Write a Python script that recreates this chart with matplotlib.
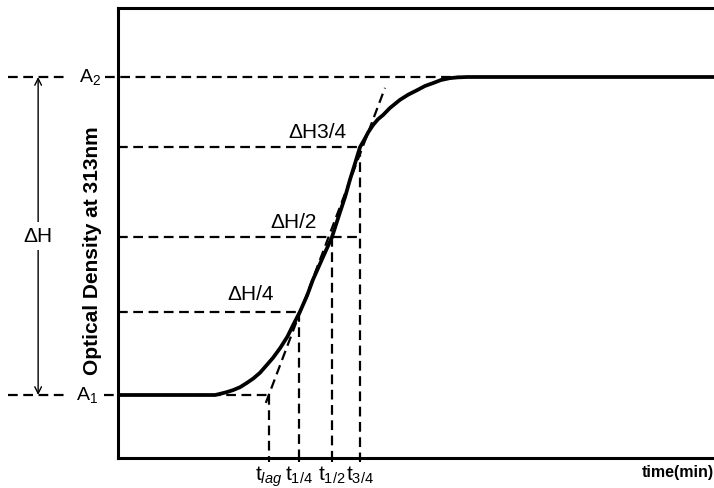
import matplotlib
matplotlib.use('Agg')
import matplotlib.pyplot as plt

plt.rcParams['font.family'] = ['Liberation Sans', 'DejaVu Sans']
plt.rcParams['mathtext.fontset'] = 'custom'
plt.rcParams['mathtext.rm'] = 'Liberation Sans'
plt.rcParams['mathtext.it'] = 'Liberation Sans:italic'
plt.rcParams['mathtext.bf'] = 'Liberation Sans:bold'
plt.rcParams['lines.scale_dashes'] = False

# ---- data (time in arbitrary minutes, OD arbitrary) ----
time_min = [0, 13.8, 16.3, 17.1, 18.1, 19.3, 20.5, 21.6, 22.7, 23.8, 24.8, 26.0,
            27.2, 28.4, 29.4, 30.5, 31.7, 32.7, 34.4, 35.9, 37.2, 38.1, 38.9, 39.8,
            40.6, 41.3, 42.0, 42.8, 43.6, 44.5, 45.6, 47.3, 48.7, 50.2, 51.5, 52.9,
            54.2, 55.7, 57.0, 58.6, 100]
od = [0.168, 0.168, 0.168, 0.171, 0.175, 0.181, 0.189, 0.200, 0.212, 0.227, 0.245, 0.267,
      0.293, 0.323, 0.355, 0.389, 0.432, 0.475, 0.536, 0.589, 0.653, 0.696, 0.741, 0.787,
      0.829, 0.848, 0.869, 0.888, 0.903, 0.915, 0.933, 0.955, 0.969, 0.981, 0.992, 1.000,
      1.008, 1.013, 1.015, 1.016, 1.016]

A1 = 0.168
A2 = 1.016
level_names = ['ΔH/4', 'ΔH/2', 'ΔH3/4']
levels = [0.389, 0.589, 0.829]

tick_times = [25.3, 30.4, 35.9, 40.6]          # t_lag, t_1/4, t_1/2, t_3/4
tick_labels = [r'$\mathrm{t}_{\mathit{lag}}$', r'$\mathrm{t}_{\mathrm{1/4}}$',
               r'$\mathrm{t}_{\mathrm{1/2}}$', r'$\mathrm{t}_{\mathrm{3/4}}$']

tangent_t = [24.8, 44.8]
tangent_od = [0.147, 0.987]

# ---- figure ----
fig = plt.figure(figsize=(7.14, 4.88), dpi=100)
ax = fig.add_axes([118 / 714, 30 / 488, 596 / 714, 450 / 488])
ax.set_xlim(0, 100)
ax.set_ylim(0, 1.2)

for s in ['left', 'bottom', 'top']:
    ax.spines[s].set_linewidth(2.2)
ax.spines['right'].set_visible(False)

dash = (0, (7, 4))
kw = dict(color='black', lw=1.6, linestyle=dash, clip_on=False)

# main curve
ax.plot(time_min, od, color='black', lw=2.7, solid_joinstyle='round',
        solid_capstyle='round', zorder=5)

# tangent
ax.plot(tangent_t, tangent_od, **kw)

# A2 / A1 guides (extend outside the axes, broken around labels)
ax.plot([-18.5, -9.0], [A2, A2], **kw)
ax.plot([-2.2, 57.4], [A2, A2], **kw)
ax.plot([-18.5, -8.6], [A1, A1], **kw)
ax.plot([-2.4, tick_times[0]], [A1, A1], **kw)

# level guides
ax.plot([0, tick_times[1]], [levels[0], levels[0]], **kw)
ax.plot([0, tick_times[3]], [levels[1], levels[1]], **kw)
ax.plot([0, tick_times[3]], [levels[2], levels[2]], **kw)

# vertical guides
v_tops = [A1] + levels
for t, top in zip(tick_times, v_tops):
    ax.plot([t, t], [top, 0], **kw)

# ΔH arrow
ax.annotate('', xy=(-13.4, A2), xytext=(-13.4, A1),
            arrowprops=dict(arrowstyle='<->', lw=1.0, color='black',
                            shrinkA=0, shrinkB=0, mutation_scale=12),
            annotation_clip=False)
ax.text(-13.5, (A1 + A2) / 2, 'ΔH', fontsize=15, ha='center', va='center',
        bbox=dict(facecolor='white', edgecolor='none', pad=3), clip_on=False)

ax.text(-4.7, A2, r'$\mathrm{A}_{2}$', fontsize=14, ha='center', va='center', clip_on=False)
ax.text(-5.2, A1, r'$\mathrm{A}_{1}$', fontsize=14, ha='center', va='center', clip_on=False)

# level labels
label_pos = [(22.3, 0.435), (29.4, 0.627), (33.4, 0.869)]
for name, (tx, ty) in zip(level_names, label_pos):
    ax.text(tx, ty, name, fontsize=15, ha='center', va='center')

# ticks
ax.set_yticks([])
ax.set_xticks(tick_times)
ax.set_xticklabels(tick_labels, fontsize=15)
ax.tick_params(axis='x', length=3, width=1.5, pad=2)

ax.text(1.0, -0.016, 'time(min)', transform=ax.transAxes, ha='right', va='top',
        fontsize=11.5, fontweight='bold')

fig.text(93 / 714, 1 - 251 / 488, 'Optical Density at 313nm', rotation=90,
         ha='center', va='center', fontsize=15, fontweight='bold')

fig.savefig('out.png', dpi=100)
